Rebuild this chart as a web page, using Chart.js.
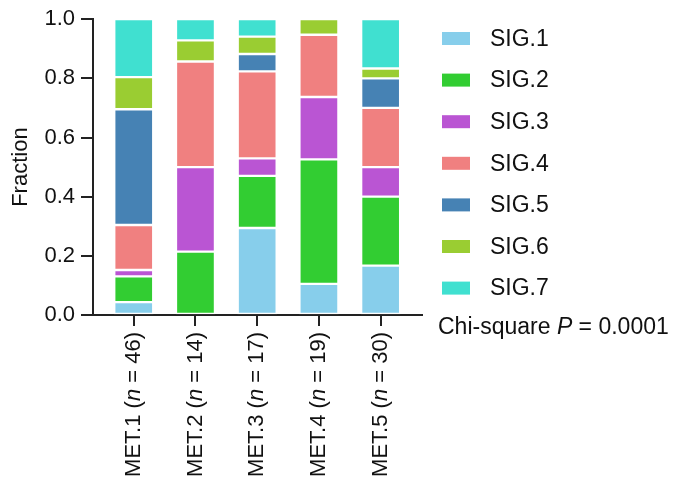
<!DOCTYPE html>
<html>
<head>
<meta charset="utf-8">
<script src="https://cdn.jsdelivr.net/npm/chart.js@4.4.1/dist/chart.umd.min.js"></script>
<style>
  html, body { margin: 0; padding: 0; background: #fff; }
  canvas { display: block; }
</style>
</head>
<body>
<canvas id="c" width="677" height="479"></canvas>
<script>
// Groups and their sample sizes
const groups = ['MET.1', 'MET.2', 'MET.3', 'MET.4', 'MET.5'];
const groupN = [46, 14, 17, 19, 30];

// Signature names and colours
const sigNames = ['SIG.1', 'SIG.2', 'SIG.3', 'SIG.4', 'SIG.5', 'SIG.6', 'SIG.7'];
const sigColors = ['#87CEEB', '#32CD32', '#BA55D3', '#F08080', '#4682B4', '#9ACD32', '#40E0D0'];

// Sample counts per signature, one value per group
const sig1 = [2, 0, 5, 2, 5];
const sig2 = [4, 3, 3, 8, 7];
const sig3 = [1, 4, 1, 4, 3];
const sig4 = [7, 5, 5, 4, 6];
const sig5 = [18, 0, 1, 0, 3];
const sig6 = [5, 1, 1, 1, 1];
const sig7 = [9, 1, 1, 0, 5];
const sigCounts = [sig1, sig2, sig3, sig4, sig5, sig6, sig7];

const yTicks = [0, 0.2, 0.4, 0.6, 0.8, 1.0];
const pValueText = '0.0001';

const FONT = '"Liberation Sans", Arial, Helvetica, sans-serif';
const INK = '#111';
const LEGEND_PX = 23;
const AXIS_PX = 22;

const datasets = sigNames.map((name, s) => ({
  label: name,
  data: sigCounts[s].map((c, i) => ({ x: i, y: c / groupN[i] })),
  backgroundColor: sigColors[s],
  borderColor: '#ffffff',
  borderWidth: 1.5,
  borderSkipped: false,
  barThickness: 39
}));

// Rotated category labels with an italic "n"
const groupLabels = {
  id: 'groupLabels',
  afterDraw(chart) {
    const ctx = chart.ctx;
    const xs = chart.scales.x;
    const top = chart.chartArea.bottom + 17;
    const f = AXIS_PX + 'px ' + FONT;
    groups.forEach((g, i) => {
      const parts = [
        { t: g + ' (', f },
        { t: 'n', f: 'italic ' + f },
        { t: ' = ' + groupN[i] + ')', f }
      ];
      ctx.save();
      let total = 0;
      parts.forEach(p => { ctx.font = p.f; p.w = ctx.measureText(p.t).width; total += p.w; });
      ctx.translate(xs.getPixelForValue(i), top);
      ctx.rotate(-Math.PI / 2);
      ctx.fillStyle = INK;
      ctx.textBaseline = 'middle';
      ctx.textAlign = 'left';
      let x = -total;
      parts.forEach(p => { ctx.font = p.f; ctx.fillText(p.t, x, 0); x += p.w; });
      ctx.restore();
    });
  }
};

// Legend column and test statistic on the right
const sideLegend = {
  id: 'sideLegend',
  afterDraw(chart) {
    const ctx = chart.ctx;
    const f = LEGEND_PX + 'px ' + FONT;
    ctx.save();
    ctx.textBaseline = 'middle';
    ctx.textAlign = 'left';
    chart.data.datasets.forEach((ds, k) => {
      const cy = 38.5 + k * 41.6;
      ctx.fillStyle = ds.backgroundColor;
      ctx.fillRect(442, cy - 6.5, 28, 13);
      ctx.fillStyle = INK;
      ctx.font = f;
      ctx.fillText(ds.label, 490, cy + 1);
    });
    const parts = [
      { t: 'Chi-square ', f },
      { t: 'P', f: 'italic ' + f },
      { t: ' = ' + pValueText, f }
    ];
    let x = 438;
    parts.forEach(p => {
      ctx.font = p.f;
      ctx.fillText(p.t, x, 328);
      x += ctx.measureText(p.t).width;
    });
    ctx.restore();
  }
};

new Chart(document.getElementById('c'), {
  type: 'bar',
  data: { datasets },
  options: {
    responsive: false,
    animation: false,
    devicePixelRatio: 1,
    layout: { padding: { left: 0, right: 255, top: 18, bottom: 0 } },
    plugins: { legend: { display: false }, tooltip: { enabled: false } },
    scales: {
      x: {
        type: 'linear',
        stacked: true,
        offset: false,
        min: -0.66,
        max: 4.67,
        afterBuildTicks: s => { s.ticks = groups.map((_, i) => ({ value: i })); },
        afterFit: s => { s.height = 479 - 315; },
        ticks: { display: false },
        grid: { offset: false, drawOnChartArea: false, drawTicks: true, tickLength: 11, color: '#222', lineWidth: 2 },
        border: { display: true, color: '#222', width: 2 }
      },
      y: {
        stacked: true,
        min: 0,
        max: 1,
        afterBuildTicks: s => { s.ticks = yTicks.map(v => ({ value: v })); },
        afterFit: s => { s.width = 93; },
        ticks: {
          font: { family: FONT, size: AXIS_PX },
          color: INK,
          padding: 6,
          callback: v => Number(v).toFixed(1)
        },
        title: {
          display: true,
          text: 'Fraction',
          font: { family: FONT, size: AXIS_PX },
          color: INK,
          padding: { top: 8, bottom: 0 }
        },
        grid: { drawOnChartArea: false, drawTicks: true, tickLength: 12, color: '#222', lineWidth: 2 },
        border: { display: true, color: '#222', width: 2 }
      }
    }
  },
  plugins: [groupLabels, sideLegend]
});
</script>
</body>
</html>
